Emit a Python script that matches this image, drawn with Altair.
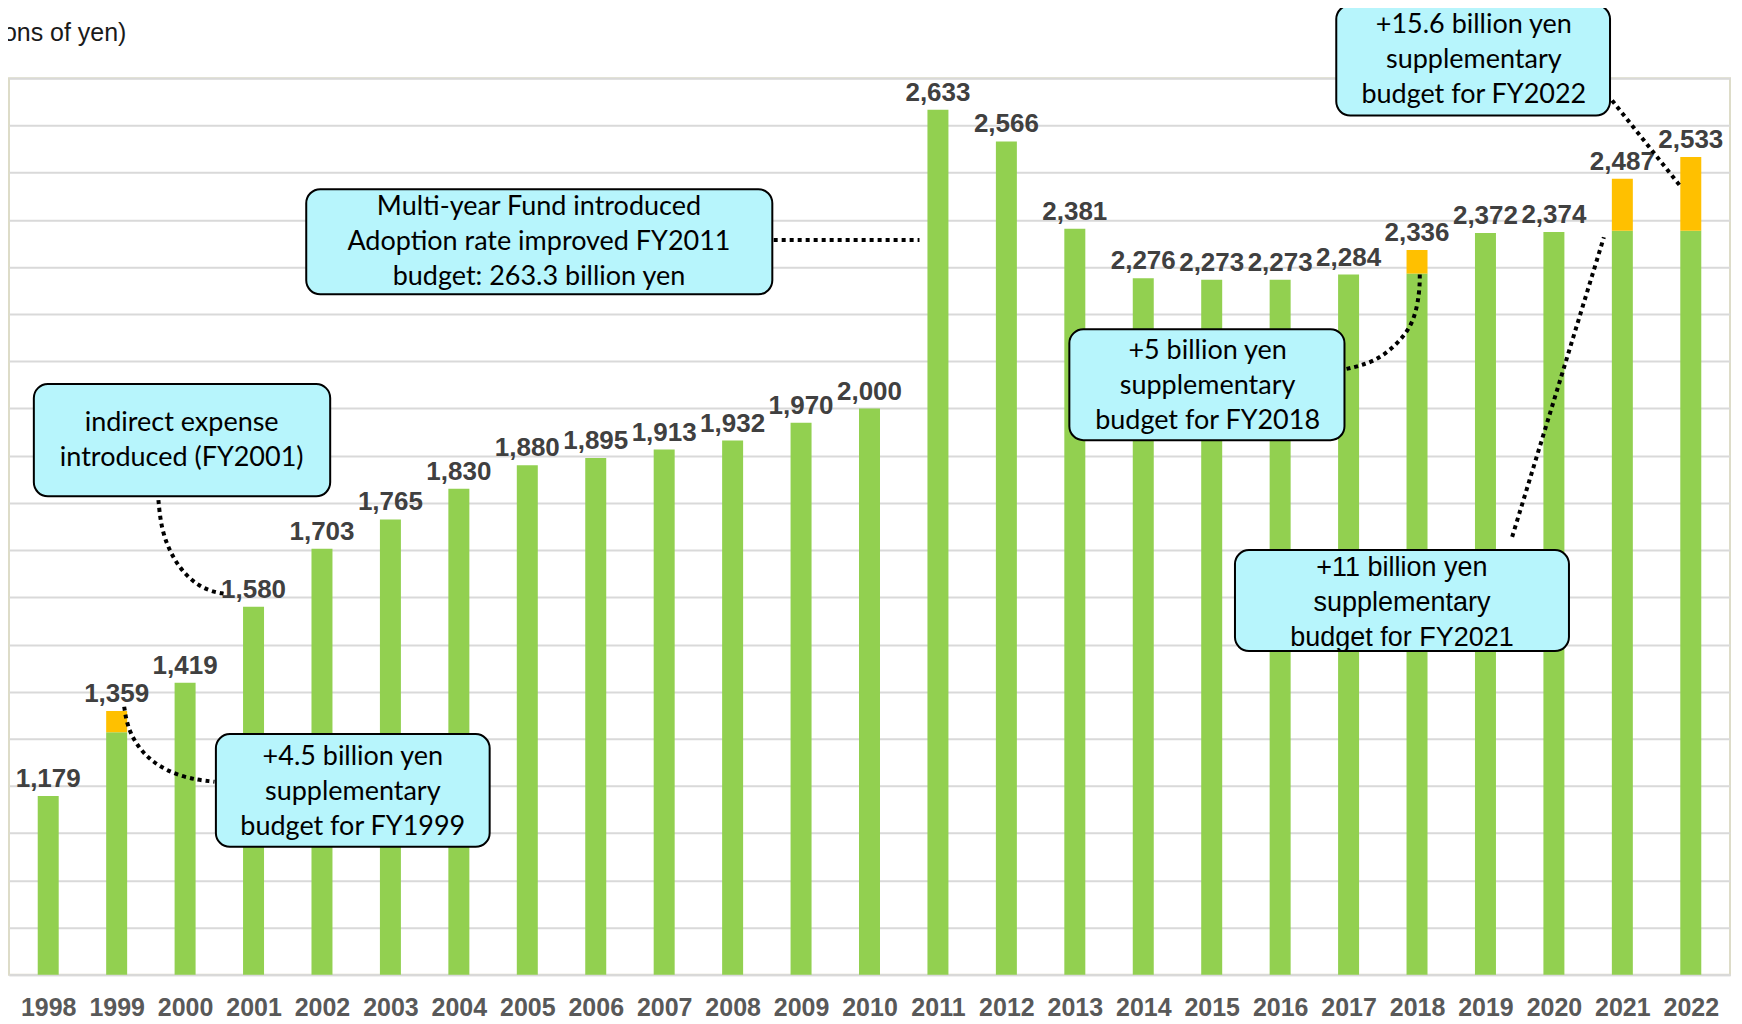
import altair as alt
import pandas as pd

# ---------------- data ----------------
years = list(range(1998, 2023))
totals = [1179, 1359, 1419, 1580, 1703, 1765, 1830, 1880, 1895, 1913, 1932, 1970, 2000,
          2633, 2566, 2381, 2276, 2273, 2273, 2284, 2336, 2372, 2374, 2487, 2533]
supplementary = [0, 45, 0, 0, 0, 0, 0, 0, 0, 0, 0, 0, 0,
                 0, 0, 0, 0, 0, 0, 0, 50, 0, 0, 110, 156]
base = [t - s for t, s in zip(totals, supplementary)]

bars = pd.DataFrame({"year": years, "base": base, "total": totals, "sup": supplementary})

# annotation boxes (data coordinates: year axis, value axis)
box_ids = ["b1", "b2", "b3", "b4", "b5", "b6"]
box_x1 = [2001.77, 1997.79, 2000.45, 2012.92, 2015.34, 2016.82]
box_x2 = [2008.58, 2002.12, 2004.45, 2016.94, 2020.22, 2020.82]
box_y1 = [2465, 2052, 1310, 2168, 1700, 2855]
box_y2 = [2242, 1814, 1071, 1933, 1486, 2621]
box_tx = [2005.17, 1999.95, 2002.45, 2014.94, 2017.78, 2018.83]
box_ty = [2427, 1969, 1262, 2122, 1662, 2812]
box_text = [
    "Multi-year Fund introduced\nAdoption rate improved FY2011\nbudget: 263.3 billion yen",
    "indirect expense\nintroduced (FY2001)",
    "+4.5 billion yen\nsupplementary\nbudget for FY1999",
    "+5 billion yen\nsupplementary\nbudget for FY2018",
    "+11 billion yen\nsupplementary\nbudget for FY2021",
    "+15.6 billion yen\nsupplementary\nbudget for FY2022",
]
box_font = ["Lato", "Lato", "Lato", "Lato", "Liberation Sans", "Lato"]

boxes = pd.DataFrame({"id": box_ids, "x1": box_x1, "x2": box_x2, "y1": box_y1, "y2": box_y2,
                      "tx": box_tx, "ty": box_ty, "text": box_text, "font": box_font})

# dotted connector lines
conn_id = (["c1"] * 2 + ["c2"] * 5 + ["c3"] * 5 + ["c4"] * 6 + ["c5"] * 2 + ["c6"] * 2)
conn_x = [2008.60, 2010.73,
          1999.61, 1999.66, 1999.91, 2000.27, 2000.59,
          1999.11, 1999.17, 1999.46, 1999.95, 2000.43,
          2016.97, 2017.38, 2017.72, 2017.96, 2018.04, 2018.04,
          2019.39, 2020.73,
          2020.85, 2021.86]
conn_y = [2357, 2357,
          1806, 1732, 1658, 1615, 1607,
          1368, 1313, 1253, 1217, 1209,
          2084, 2098, 2137, 2183, 2249, 2285,
          1728, 2363,
          2653, 2469]
conn_seq = list(range(2)) + list(range(5)) + list(range(5)) + list(range(6)) + list(range(2)) + list(range(2))
conns = pd.DataFrame({"id": conn_id, "x": conn_x, "y": conn_y, "seq": conn_seq})

# ---------------- scales ----------------
xscale = alt.Scale(domain=[1997.5, 2022.5], nice=False, zero=False)
yscale = alt.Scale(domain=[800, 2700], nice=False, zero=False)

x_axis = alt.Axis(values=years, format="d", ticks=False, grid=False, labelFontSize=25,
                  labelFontWeight="bold", labelColor="#595959", labelFont="Liberation Sans",
                  labelPadding=21, domainColor="#D9D9D9", domainWidth=2, title=None,
                  labelFlush=False)
y_axis = alt.Axis(values=list(range(800, 2701, 100)), grid=True, gridColor="#D9D9D9",
                  gridWidth=2, labels=False, ticks=False, domain=False,
                  title="(100 millions of yen)", titleAngle=0, titleX=117, titleY=-46,
                  titleAlign="right", titleBaseline="middle", titleFontSize=25,
                  titleFontWeight="normal", titleFont="Liberation Sans", titleColor="#1a1a1a")

green = alt.Chart(bars).mark_bar(size=21, color="#92D050", clip=True).encode(
    x=alt.X("year:Q", scale=xscale, axis=x_axis),
    y=alt.Y("base:Q", scale=yscale, axis=y_axis),
)

orange = alt.Chart(bars).transform_filter("datum.sup > 0").mark_bar(size=21, color="#FFC000").encode(
    x=alt.X("year:Q", scale=xscale),
    y=alt.Y("total:Q", scale=yscale),
    y2="base:Q",
)

labels = alt.Chart(bars).mark_text(dy=-9, baseline="alphabetic", fontSize=26, fontWeight="bold",
                                   font="Liberation Sans", color="#404040").encode(
    x=alt.X("year:Q", scale=xscale),
    y=alt.Y("total:Q", scale=yscale),
    text=alt.Text("total:Q", format=",d"),
)

lines = alt.Chart(conns).mark_line(interpolate="basis", strokeDash=[4, 4], strokeWidth=4,
                                   color="black").encode(
    x=alt.X("x:Q", scale=xscale),
    y=alt.Y("y:Q", scale=yscale),
    detail="id:N",
    order="seq:Q",
)

rects = alt.Chart(boxes).mark_rect(cornerRadius=14, fill="#B7F5FC", stroke="black",
                                   strokeWidth=2).encode(
    x=alt.X("x1:Q", scale=xscale),
    x2="x2:Q",
    y=alt.Y("y1:Q", scale=yscale),
    y2="y2:Q",
)

text_lato = alt.Chart(boxes).transform_filter("datum.font == 'Lato'").mark_text(
    font="Lato", fontSize=27, lineHeight=35, lineBreak="\n", align="center",
    baseline="middle", color="black").encode(
    x=alt.X("tx:Q", scale=xscale),
    y=alt.Y("ty:Q", scale=yscale),
    text="text:N",
)

text_arial = alt.Chart(boxes).transform_filter("datum.font == 'Liberation Sans'").mark_text(
    font="Liberation Sans", fontSize=27, lineHeight=35, lineBreak="\n", align="center",
    baseline="middle", color="black").encode(
    x=alt.X("tx:Q", scale=xscale),
    y=alt.Y("ty:Q", scale=yscale),
    text="text:N",
)

chart = alt.layer(green, orange, labels, lines, rects, text_lato, text_arial).properties(
    width=1722, height=897,
    autosize=alt.AutoSizeParams(type="none"),
    padding={"left": 1, "top": 70, "right": 4, "bottom": 48},
).configure_view(stroke="#DDDCC8", strokeWidth=2)

chart.save("out.html", embed_options={"renderer": "svg", "actions": False})
